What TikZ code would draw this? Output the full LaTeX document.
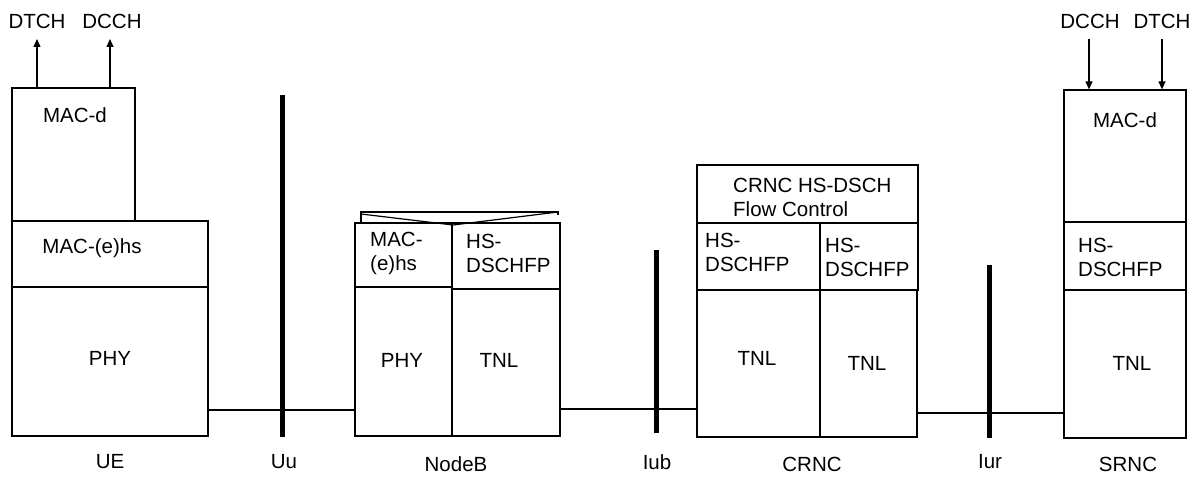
\documentclass[tikz,border=0pt]{standalone}
\usepackage{fontspec}
\setmainfont{Liberation Sans}
\usetikzlibrary{fit,arrows.meta}
\begin{document}
\begin{tikzpicture}[x=1pt,y=-1pt,
  box/.style={draw, line width=1.2pt, inner sep=0pt},
  txt/.style={inner sep=0pt, font=\fontsize{20.5}{24}\selectfont},
  mtxt/.style={txt, align=left, anchor=west},
  link/.style={line width=1.2pt},
  iface/.style={line width=5pt},
  arr/.style={line width=1.2pt, -{Triangle[length=8pt,width=7pt]}}]
\useasboundingbox (0,0) rectangle (1198,478);
% UE
\node[box, fit={(12,88) (135,221)}] (uemacd) {};
\node[box, fit={(12,221) (208,287)}] (uehs) {};
\node[box, fit={(12,287) (208,436)}] (uephy) {};
\node[txt] (uedtch) at (37,21) {DTCH};
\node[txt] (uedcch) at (112,21) {DCCH};
\node[txt] (uemacdt) at (75,115) {MAC-d};
\node[txt] (uehst) at (92,248) {MAC-(e)hs};
\node[txt] (uephyt) at (110,358) {PHY};
\node[txt] (uelab) at (110,462) {UE};
\coordinate (uea1) at (37,39);
\coordinate (uea2) at (110,39);
\draw[arr] (uemacd.north -| uea1) -- (uea1);
\draw[arr] (uemacd.north -| uea2) -- (uea2);
% Uu
\coordinate (uutop) at (282,95);
\coordinate (uubot) at (282,437);
\draw[iface] (uutop) -- (uubot);
\node[txt] (uulab) at (284,462) {Uu};
% NodeB
\node[box, fit={(355,223) (452,287)}] (nbmac) {};
\node[box, fit={(452,223) (560,289)}] (nbfp) {};
\node[box, fit={(355,287) (452,436)}] (nbphy) {};
\node[box, fit={(452,289) (560,436)}] (nbtnl) {};
\coordinate (envl) at (361,212);
\coordinate (envr) at (558,212);
\coordinate (envm) at (453,225);
\draw[link] (nbmac.north -| envl) -- (envl) -- (envr) -- ([yshift=-3pt]envr);
\draw[link] ([yshift=-2pt]envl) -- (envm) -- (envr);
\node[mtxt] (nbmact) at (370,253) {MAC-\\(e)hs};
\node[mtxt] (nbfpt) at (466,253) {HS-\\DSCHFP};
\node[txt] (nbphyt) at (402,360) {PHY};
\node[txt] (nbtnlt) at (499,360) {TNL};
\node[txt] (nblab) at (456,464) {NodeB};
\coordinate (l1) at (0,410);
\draw[link] (uephy.east |- l1) -- (nbphy.west |- l1);
% Iub
\coordinate (iubtop) at (656,250);
\coordinate (iubbot) at (656,433);
\draw[iface] (iubtop) -- (iubbot);
\node[txt] (iublab) at (657,462) {Iub};
% CRNC
\node[box, fit={(697,165) (918,223)}] (crfc) {};
\node[box, fit={(697,223) (820,290)}] (crfp1) {};
\node[box, fit={(820,223) (918,290)}] (crfp2) {};
\node[box, fit={(697,290) (820,437)}] (crtnl1) {};
\node[box, fit={(820,290) (917,437)}] (crtnl2) {};
\node[mtxt] (crfct) at (733,197) {CRNC HS-DSCH\\Flow Control};
\node[mtxt] (crfp1t) at (705,252) {HS-\\DSCHFP};
\node[mtxt] (crfp2t) at (825,257) {HS-\\DSCHFP};
\node[txt] (crtnl1t) at (757,358) {TNL};
\node[txt] (crtnl2t) at (867,363) {TNL};
\node[txt] (crlab) at (812,464) {CRNC};
\coordinate (l2) at (0,409);
\draw[link] (nbtnl.east |- l2) -- (crtnl1.west |- l2);
% Iur
\coordinate (iurtop) at (989,265);
\coordinate (iurbot) at (989,438);
\draw[iface] (iurtop) -- (iurbot);
\node[txt] (iurlab) at (990,462) {Iur};
% SRNC
\node[box, fit={(1064,90) (1186,222)}] (srmacd) {};
\node[box, fit={(1064,222) (1186,290)}] (srfp) {};
\node[box, fit={(1064,290) (1186,438)}] (srtnl) {};
\node[txt] (srdcch) at (1090,21) {DCCH};
\node[txt] (srdtch) at (1162,21) {DTCH};
\node[txt] (srmacdt) at (1125,120) {MAC-d};
\node[mtxt] (srfpt) at (1078,257) {HS-\\DSCHFP};
\node[txt] (srtnlt) at (1132,363) {TNL};
\node[txt] (srlab) at (1128,464) {SRNC};
\coordinate (sra1) at (1089,39);
\coordinate (sra2) at (1162,39);
\draw[arr] (sra1) -- (srmacd.north -| sra1);
\draw[arr] (sra2) -- (srmacd.north -| sra2);
\coordinate (l3) at (0,413);
\draw[link] (crtnl2.east |- l3) -- (srtnl.west |- l3);
\end{tikzpicture}
\end{document}
